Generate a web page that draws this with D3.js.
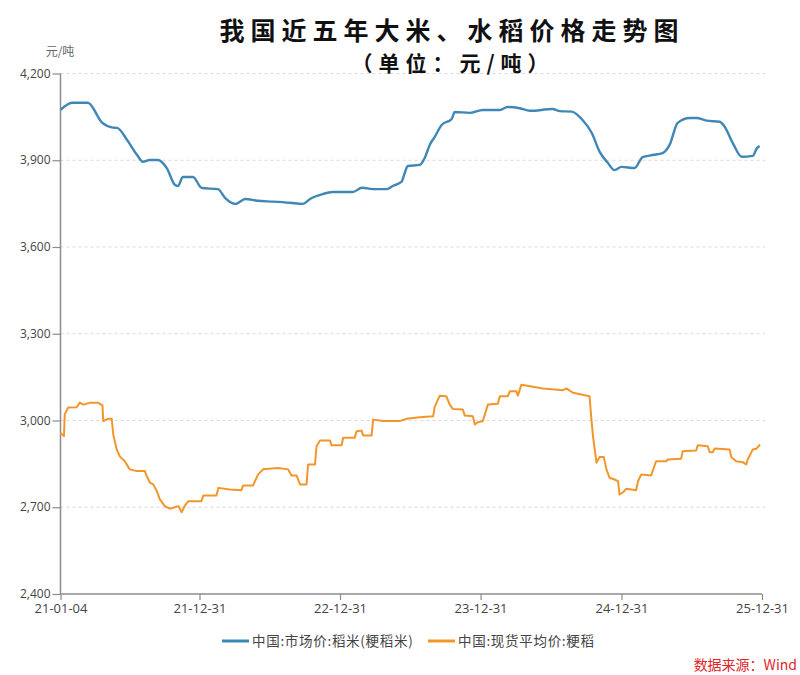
<!DOCTYPE html>
<html><head><meta charset="utf-8">
<script src="https://cdn.jsdelivr.net/npm/d3@7/dist/d3.min.js"></script>
<style>body{margin:0;background:#fff}svg{display:block}</style>
</head><body>
<svg id="c" width="800" height="675"></svg>
<script>
const titleText = "我国近五年大米、水稻价格走势图";
const subtitleText = "（单位：元/吨）";
const unitText = "元/吨";
const seriesNames = ["中国:市场价:稻米(粳稻米)", "中国:现货平均价:粳稻"];
const sourceText = "数据来源：Wind";
const yTicks = [2400, 2700, 3000, 3300, 3600, 3900, 4200];
const xTickDates = ["2021-01-04","2021-12-31","2022-12-31","2023-12-31","2024-12-31","2025-12-31"];
const xDomain = ["2021-01-04","2025-12-31"];

const riceDates = ["2021-01-04","2021-02-03","2021-03-16","2021-04-22","2021-05-20","2021-05-31","2021-06-26","2021-07-22","2021-08-06","2021-08-24","2021-09-14","2021-10-07","2021-10-28","2021-11-05","2021-11-18","2021-12-14","2022-01-06","2022-02-17","2022-03-08","2022-04-03","2022-04-29","2022-05-30","2022-07-10","2022-08-23","2022-09-26","2022-10-14","2022-11-16","2022-12-12","2023-02-02","2023-02-26","2023-03-26","2023-05-02","2023-05-17","2023-06-09","2023-06-17","2023-06-25","2023-07-26","2023-08-08","2023-08-21","2023-09-03","2023-09-21","2023-10-17","2023-10-25","2023-12-03","2024-01-06","2024-02-19","2024-03-10","2024-04-11","2024-05-07","2024-07-05","2024-07-24","2024-08-24","2024-09-21","2024-10-15","2024-11-04","2024-11-25","2024-12-13","2024-12-31","2025-02-03","2025-02-24","2025-03-22","2025-04-17","2025-05-05","2025-05-26","2025-06-26","2025-07-14","2025-08-09","2025-09-12","2025-09-25","2025-10-16","2025-11-08","2025-12-07","2025-12-18","2025-12-25"];
const riceValues = [4074,4099,4099,4030,4013,4012,3970,3918,3895,3901,3901,3873,3815,3811,3842,3842,3804,3800,3769,3749,3766,3760,3757,3753,3749,3766,3783,3790,3790,3805,3800,3800,3811,3826,3856,3880,3884,3908,3953,3981,4022,4043,4067,4064,4074,4074,4084,4080,4071,4077,4070,4068,4039,3994,3930,3892,3866,3877,3873,3911,3918,3925,3953,4029,4046,4046,4037,4033,4016,3960,3912,3915,3942,3949];

const paddyDates = ["2021-01-04","2021-01-13","2021-01-15","2021-01-24","2021-02-15","2021-02-23","2021-03-04","2021-03-21","2021-04-12","2021-04-23","2021-04-25","2021-05-08","2021-05-17","2021-05-21","2021-05-30","2021-06-07","2021-06-20","2021-07-03","2021-07-21","2021-08-11","2021-08-16","2021-08-24","2021-09-02","2021-09-11","2021-09-19","2021-10-02","2021-10-15","2021-11-06","2021-11-15","2021-11-23","2021-12-02","2022-01-05","2022-01-10","2022-02-13","2022-02-18","2022-03-20","2022-04-19","2022-04-23","2022-05-19","2022-06-01","2022-06-14","2022-07-23","2022-08-18","2022-08-27","2022-09-09","2022-09-18","2022-10-05","2022-10-09","2022-10-27","2022-10-31","2022-11-09","2022-12-05","2022-12-09","2023-01-04","2023-01-08","2023-02-07","2023-02-12","2023-02-25","2023-03-01","2023-03-23","2023-03-27","2023-04-22","2023-06-04","2023-06-22","2023-07-26","2023-08-30","2023-09-03","2023-09-16","2023-10-03","2023-10-12","2023-10-20","2023-11-15","2023-11-20","2023-12-11","2023-12-16","2023-12-24","2024-01-06","2024-01-19","2024-02-14","2024-02-19","2024-03-11","2024-03-16","2024-04-02","2024-04-06","2024-04-15","2024-05-15","2024-06-10","2024-08-01","2024-08-10","2024-08-27","2024-09-18","2024-10-09","2024-10-14","2024-10-18","2024-10-27","2024-11-04","2024-11-15","2024-11-22","2024-11-30","2024-12-13","2024-12-22","2024-12-26","2025-01-04","2025-01-13","2025-02-07","2025-02-12","2025-02-20","2025-03-18","2025-03-31","2025-04-26","2025-04-30","2025-06-04","2025-06-08","2025-07-13","2025-07-17","2025-08-12","2025-08-17","2025-08-25","2025-08-30","2025-10-08","2025-10-12","2025-10-25","2025-11-11","2025-11-20","2025-11-24","2025-12-07","2025-12-16","2025-12-26"];
const paddyValues = [2957,2946,3021,3045,3046,3062,3055,3061,3061,3052,2998,3006,3006,2952,2900,2876,2859,2831,2825,2825,2808,2785,2779,2756,2727,2704,2695,2704,2683,2706,2721,2721,2741,2741,2767,2761,2759,2775,2775,2813,2831,2836,2831,2810,2810,2779,2779,2848,2848,2911,2931,2931,2914,2914,2940,2940,2963,2965,2948,2948,3003,2998,2998,3006,3011,3015,3047,3086,3084,3055,3040,3038,3017,3015,2986,2994,2998,3055,3058,3084,3084,3101,3101,3086,3124,3117,3111,3105,3111,3096,3090,3084,3003,2946,2854,2874,2874,2831,2802,2796,2790,2744,2752,2764,2759,2790,2813,2810,2859,2859,2865,2868,2894,2896,2914,2911,2890,2890,2903,2900,2874,2859,2856,2848,2865,2900,2902,2917];

const colors = ["#3f88b6", "#f2962c"];

const parse = d3.timeParse("%Y-%m-%d");
const fmtX = d3.timeFormat("%y-%m-%d");
const svg = d3.select("#c");
const mLeft = 60.5, mRight = 762, mTop = 73.5, mBottom = 594;

const x = d3.scaleTime().domain(xDomain.map(parse)).range([mLeft, mRight]);
const y = d3.scaleLinear().domain([2400, 4200]).range([mBottom, mTop]);

// gridlines
svg.append("g").selectAll("line").data(yTicks.filter(v => v > 2400)).join("line")
  .attr("x1", mLeft).attr("x2", mRight + 3)
  .attr("y1", d => y(d)).attr("y2", d => y(d))
  .attr("stroke", "#d9d9d9").attr("stroke-width", 1).attr("stroke-dasharray", "3,3");

// y axis
const yAxis = svg.append("g").attr("transform", `translate(${mLeft},0)`)
  .call(d3.axisLeft(y).tickValues(yTicks).tickSize(8).tickPadding(2).tickFormat(d3.format(",")));
yAxis.select(".domain").attr("stroke", "#8c8c8c").attr("stroke-width", 1.5).attr("d", `M0,${mTop}V${mBottom}`);
yAxis.selectAll(".tick line").attr("stroke", "#8c8c8c").attr("stroke-width", 1.2);
yAxis.selectAll("text").attr("fill", "#444").style("font-family", "'Open Sans', 'Noto Sans', sans-serif").style("font-size", "12px").attr("dy", "0.3em");

// x axis
const xAxis = svg.append("g").attr("transform", `translate(0,${mBottom})`)
  .call(d3.axisBottom(x).tickValues(xTickDates.map(parse)).tickSize(6).tickPadding(4).tickFormat(fmtX));
xAxis.select(".domain").attr("stroke", "#8c8c8c").attr("stroke-width", 1.5).attr("d", `M${mLeft},0H${mRight}`);
xAxis.selectAll(".tick line").attr("stroke", "#8c8c8c").attr("stroke-width", 1.2);
xAxis.selectAll("text").attr("fill", "#444").style("font-family", "'Open Sans', 'Noto Sans', sans-serif").style("font-size", "13px");

// lines
const riceData = riceDates.map((d, i) => [parse(d), riceValues[i]]);
const paddyData = paddyDates.map((d, i) => [parse(d), paddyValues[i]]);
const riceLine = d3.line().x(d => x(d[0])).y(d => y(d[1])).curve(d3.curveMonotoneX);
const paddyLine = d3.line().x(d => x(d[0])).y(d => y(d[1]));
svg.append("path").datum(riceData).attr("d", riceLine)
  .attr("fill", "none").attr("stroke", colors[0]).attr("stroke-width", 2.4).attr("stroke-linejoin", "round");
svg.append("path").datum(paddyData).attr("d", paddyLine)
  .attr("fill", "none").attr("stroke", colors[1]).attr("stroke-width", 2).attr("stroke-linejoin", "round");

// titles
svg.append("text").attr("x", 452).attr("y", 40).attr("text-anchor", "middle")
  .style("font-family", "'Noto Sans CJK SC', sans-serif").style("font-weight", "bold")
  .style("font-size", "25px").style("letter-spacing", "6px").attr("fill", "#111").text(titleText);
svg.append("text").attr("x", 453).attr("y", 71).attr("text-anchor", "middle")
  .style("font-family", "'Noto Sans CJK SC', sans-serif").style("font-weight", "bold")
  .style("font-size", "21px").style("letter-spacing", "6px").attr("fill", "#111").text(subtitleText);

svg.append("text").attr("x", 60).attr("y", 56).attr("text-anchor", "middle")
  .style("font-family", "'Noto Sans CJK SC', sans-serif").style("font-size", "12px")
  .attr("fill", "#666").text(unitText);

// legend
const legX = [222, 428];
seriesNames.forEach((name, i) => {
  const g = svg.append("g");
  g.append("line").attr("x1", legX[i]).attr("x2", legX[i] + 27).attr("y1", 641).attr("y2", 641)
    .attr("stroke", colors[i]).attr("stroke-width", 3);
  g.append("text").attr("x", legX[i] + 30).attr("y", 645.5)
    .style("font-family", "'Noto Sans CJK SC', sans-serif").style("font-size", "13.5px")
    .style("letter-spacing", "0.7px").attr("fill", "#444").text(name);
});

svg.append("text").attr("x", 797).attr("y", 670).attr("text-anchor", "end")
  .style("font-family", "'Noto Sans CJK SC', sans-serif").style("font-size", "14px")
  .attr("fill", "#e0262b").text(sourceText);
</script>
</body></html>
